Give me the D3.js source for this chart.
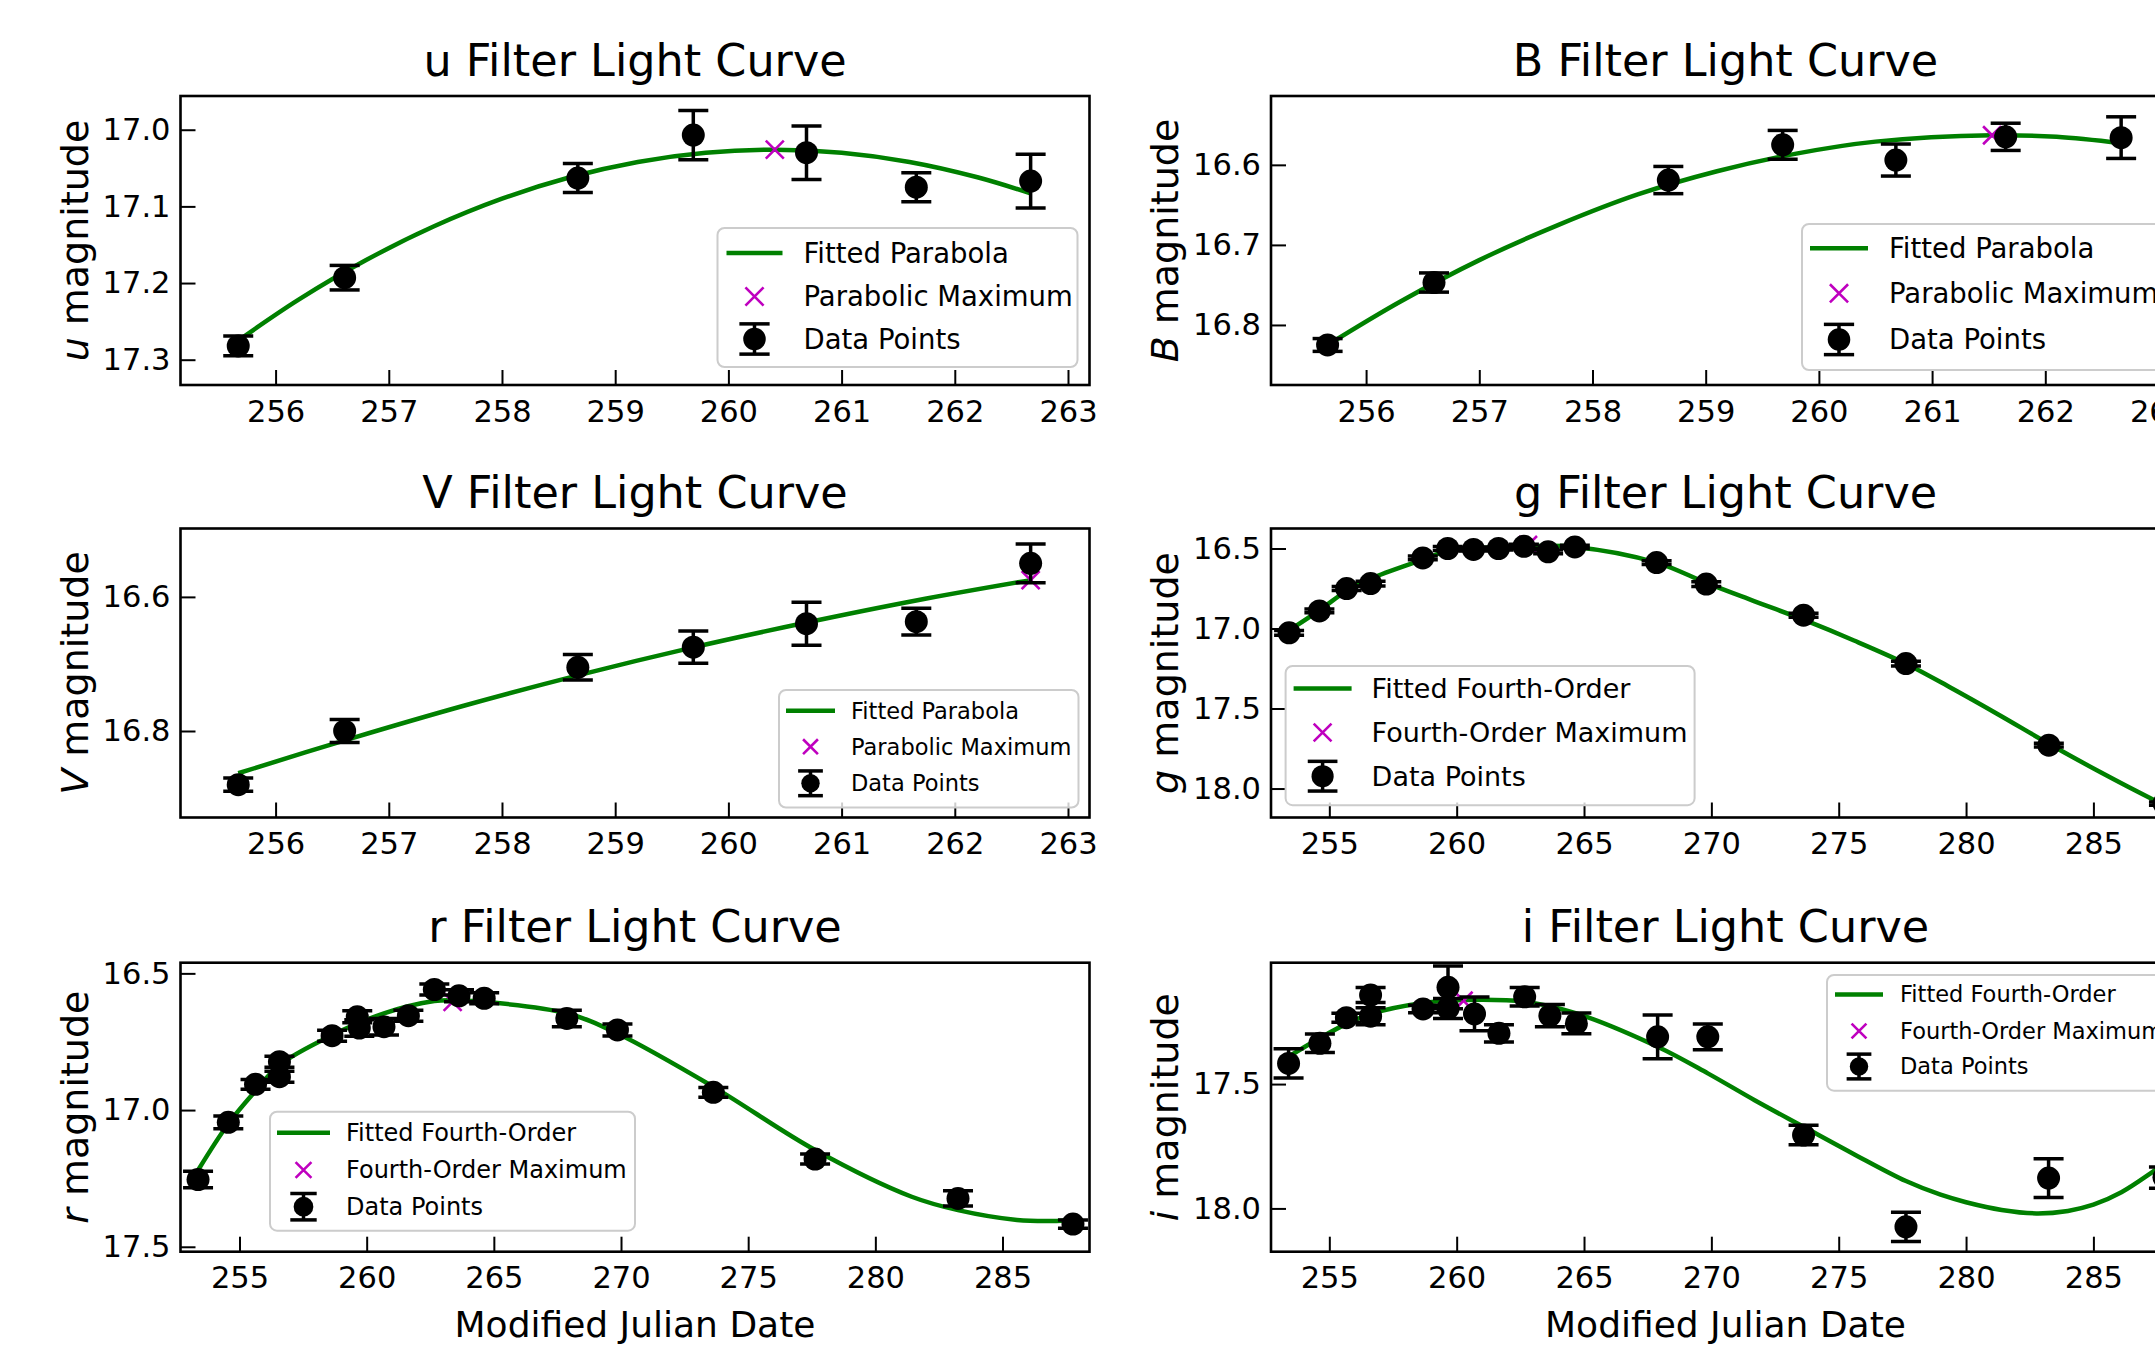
<!DOCTYPE html>
<html>
<head>
<meta charset="utf-8">
<script src="https://cdn.jsdelivr.net/npm/d3@7"></script>
<style>
body { margin: 0; background: #fff; }
svg { display: block; font-family: "DejaVu Sans", sans-serif; }
</style>
</head>
<body>
<svg id="chart" width="2155" height="1350"></svg>
<script>
// ---- data (MJD - 58000, magnitude) ----
var uDays = [255.67, 256.61, 258.67, 259.69, 260.69, 261.66, 262.67];
var uMag  = [17.282, 17.193, 17.063, 17.007, 17.030, 17.075, 17.067];
var uErr  = [0.013, 0.016, 0.019, 0.032, 0.035, 0.019, 0.035];
var uFitDays = [255.67, 256.2, 256.8, 257.4, 258.0, 258.6, 259.2, 259.8, 260.41, 261.0, 261.6, 262.2, 262.67];
var uFitMag  = [17.275, 17.222, 17.170, 17.126, 17.090, 17.062, 17.042, 17.030, 17.026, 17.030, 17.042, 17.062, 17.083];
var uPeak = [260.41, 17.026];

var bDays = [255.66, 256.60, 258.67, 259.68, 260.68, 261.65, 262.67];
var bMag  = [16.825, 16.747, 16.619, 16.575, 16.594, 16.565, 16.566];
var bErr  = [0.008, 0.012, 0.017, 0.018, 0.020, 0.017, 0.026];
var bFitDays = [255.66, 256.3, 257.0, 257.7, 258.4, 259.1, 259.8, 260.5, 261.53, 262.1, 262.67];
var bFitMag  = [16.825, 16.771, 16.719, 16.675, 16.637, 16.608, 16.586, 16.571, 16.563, 16.565, 16.573];
var bPeak = [261.53, 16.563];

var vDays = [255.67, 256.61, 258.67, 259.69, 260.69, 261.66, 262.67];
var vMag  = [16.880, 16.800, 16.705, 16.675, 16.640, 16.637, 16.550];
var vErr  = [0.010, 0.017, 0.019, 0.024, 0.032, 0.020, 0.029];
var vFitDays = [255.67, 256.67, 257.67, 258.67, 259.67, 260.67, 261.67, 262.67];
var vFitMag  = [16.863, 16.811, 16.762, 16.717, 16.676, 16.639, 16.605, 16.575];
var vPeak = [262.67, 16.575];

var gDays = [253.42, 254.61, 255.68, 256.62, 258.67, 259.65, 260.66, 261.64, 262.64, 263.59, 264.64, 267.85, 269.80, 273.62, 277.64, 283.25, 287.77];
var gMag  = [17.027, 16.890, 16.750, 16.719, 16.559, 16.500, 16.506, 16.500, 16.486, 16.521, 16.490, 16.588, 16.722, 16.917, 17.219, 17.729, 18.094];
var gErr  = [0.015, 0.012, 0.012, 0.015, 0.012, 0.012, 0.010, 0.010, 0.012, 0.012, 0.010, 0.012, 0.015, 0.012, 0.015, 0.012, 0.010];
var gFitDays = [253.42, 254.61, 255.68, 256.62, 258.67, 259.65, 260.66, 262.64, 264.64, 267.85, 269.80, 271.7, 273.62, 275.6, 277.64, 279.4, 281.3, 283.25, 285.3, 287.3, 287.77];
var gFitMag  = [17.011, 16.886, 16.765, 16.688, 16.569, 16.515, 16.500, 16.486, 16.490, 16.588, 16.715, 16.830, 16.945, 17.075, 17.220, 17.370, 17.540, 17.720, 17.900, 18.065, 18.100];
var gPeak = [262.8, 16.478];

var rDays = [253.37, 254.56, 255.63, 256.57, 256.57, 258.64, 259.63, 259.71, 260.68, 261.64, 262.66, 263.63, 264.62, 267.87, 269.86, 273.63, 277.63, 283.25, 287.77];
var rMag  = [17.254, 17.045, 16.906, 16.823, 16.878, 16.728, 16.659, 16.700, 16.695, 16.655, 16.559, 16.582, 16.591, 16.665, 16.707, 16.935, 17.179, 17.323, 17.417];
var rErr  = [0.030, 0.023, 0.018, 0.020, 0.020, 0.020, 0.022, 0.030, 0.030, 0.020, 0.020, 0.022, 0.020, 0.030, 0.022, 0.018, 0.018, 0.028, 0.015];
var rFitDays = [253.37, 254.56, 255.63, 256.57, 258.64, 260.68, 262.66, 263.38, 264.62, 267.87, 269.86, 273.63, 277.63, 281.43, 283.25, 285.57, 286.95, 287.77];
var rFitMag  = [17.220, 17.050, 16.930, 16.835, 16.726, 16.646, 16.601, 16.598, 16.604, 16.646, 16.720, 16.915, 17.146, 17.317, 17.366, 17.402, 17.406, 17.402];
var rPeak = [263.38, 16.604];

var iDays = [253.40, 254.63, 255.67, 256.62, 256.62, 258.68, 259.66, 259.66, 260.70, 261.66, 262.67, 263.66, 264.70, 267.89, 269.86, 273.62, 277.64, 283.24, 287.77];
var iMag  = [17.417, 17.336, 17.233, 17.142, 17.227, 17.198, 17.111, 17.196, 17.218, 17.296, 17.149, 17.225, 17.256, 17.310, 17.310, 17.705, 18.074, 17.878, 17.876];
var iErr  = [0.059, 0.037, 0.018, 0.030, 0.034, 0.015, 0.086, 0.040, 0.068, 0.035, 0.037, 0.045, 0.042, 0.088, 0.052, 0.039, 0.059, 0.078, 0.043];
var iFitDays = [253.40, 254.63, 255.67, 256.62, 258.68, 260.27, 262.67, 264.70, 267.89, 269.86, 271.7, 273.62, 275.6, 277.64, 279.0, 280.0, 281.4, 282.76, 284.0, 285.0, 286.1, 287.3, 287.77];
var iFitMag  = [17.390, 17.315, 17.258, 17.218, 17.174, 17.162, 17.169, 17.216, 17.350, 17.457, 17.565, 17.672, 17.782, 17.890, 17.945, 17.975, 18.006, 18.020, 18.010, 17.985, 17.935, 17.855, 17.820];
var iPeak = [260.27, 17.165];

// tick labels
var shortDayTicks = [256, 257, 258, 259, 260, 261, 262, 263];
var longDayTicks = [255, 260, 265, 270, 275, 280, 285];
var uTicks = [17.0, 17.1, 17.2, 17.3];
var bTicks = [16.6, 16.7, 16.8];
var vTicks = [16.6, 16.8];
var gTicks = [16.5, 17.0, 17.5, 18.0];
var rTicks = [16.5, 17.0, 17.5];
var iTicks = [17.5, 18.0];

// ---- layout ----
var svg = d3.select("#chart");
var axW = 909, axH = 289;
var colLeft = [180.5, 1271];
var rowTop = [96, 528.5, 962.7];
var green = "#008000", magenta = "#bf00bf";

svg.append("rect").attr("width", 2155).attr("height", 1350).attr("fill", "#fff");

var panels = [
  {band: "u", days: uDays, mag: uMag, err: uErr, fitDays: uFitDays, fitMag: uFitMag, peak: uPeak,
   col: 0, row: 0, xDom: [255.16, 263.19], yDom: [16.956, 17.333], xTicks: shortDayTicks, yTicks: uTicks,
   fitName: "Fitted Parabola", maxName: "Parabolic Maximum",
   leg: {dx: 537, dy: 132, w: 360, h: 139, font: 27.5, rows: [25, 68.5, 111], h0: 9, h1: 65, tx: 86}},
  {band: "B", days: bDays, mag: bMag, err: bErr, fitDays: bFitDays, fitMag: bFitMag, peak: bPeak,
   col: 1, row: 0, xDom: [255.16, 263.19], yDom: [16.514, 16.875], xTicks: shortDayTicks, yTicks: bTicks,
   fitName: "Fitted Parabola", maxName: "Parabolic Maximum",
   leg: {dx: 531, dy: 128, w: 362, h: 146, font: 27.5, rows: [24.3, 69.3, 115.5], h0: 8, h1: 66, tx: 87}},
  {band: "V", days: vDays, mag: vMag, err: vErr, fitDays: vFitDays, fitMag: vFitMag, peak: vPeak,
   col: 0, row: 1, xDom: [255.16, 263.19], yDom: [16.498, 16.929], xTicks: shortDayTicks, yTicks: vTicks,
   fitName: "Fitted Parabola", maxName: "Parabolic Maximum",
   leg: {dx: 598.5, dy: 161.5, w: 299.5, h: 117.5, font: 22.5, rows: [20.7, 56.7, 93.3], h0: 7, h1: 56, tx: 72}},
  {band: "g", days: gDays, mag: gMag, err: gErr, fitDays: gFitDays, fitMag: gFitMag, peak: gPeak,
   col: 1, row: 1, xDom: [252.71, 288.4], yDom: [16.375, 18.181], xTicks: longDayTicks, yTicks: gTicks,
   fitName: "Fitted Fourth-Order", maxName: "Fourth-Order Maximum",
   leg: {dx: 14.6, dy: 137.4, w: 409, h: 139.3, font: 27, rows: [22.6, 66.6, 110.3], h0: 8, h1: 66, tx: 86}},
  {band: "r", days: rDays, mag: rMag, err: rErr, fitDays: rFitDays, fitMag: rFitMag, peak: rPeak,
   col: 0, row: 2, xDom: [252.68, 288.42], yDom: [16.461, 17.518], xTicks: longDayTicks, yTicks: rTicks,
   fitName: "Fitted Fourth-Order", maxName: "Fourth-Order Maximum",
   leg: {dx: 89.5, dy: 149, w: 365, h: 119, font: 24, rows: [21, 58.3, 95], h0: 7, h1: 60, tx: 76}},
  {band: "i", days: iDays, mag: iMag, err: iErr, fitDays: iFitDays, fitMag: iFitMag, peak: iPeak,
   col: 1, row: 2, xDom: [252.71, 288.4], yDom: [17.012, 18.174], xTicks: longDayTicks, yTicks: iTicks,
   fitName: "Fitted Fourth-Order", maxName: "Fourth-Order Maximum",
   leg: {dx: 556, dy: 12.3, w: 345, h: 115.7, font: 22.5, rows: [19.5, 56, 91.5], h0: 8, h1: 56, tx: 73}}
];

function drawX(sel, cx, cy, half) {
  sel.append("path")
    .attr("d", "M" + (cx - half) + "," + (cy - half) + "L" + (cx + half) + "," + (cy + half) +
               "M" + (cx - half) + "," + (cy + half) + "L" + (cx + half) + "," + (cy - half))
    .attr("stroke", magenta).attr("stroke-width", 2.6).attr("fill", "none");
}

function drawErrGlyph(sel, cx, cy, errHalf, capHalf, r) {
  sel.append("line").attr("x1", cx).attr("x2", cx).attr("y1", cy - errHalf).attr("y2", cy + errHalf)
    .attr("stroke", "#000").attr("stroke-width", 3.5);
  [cy - errHalf, cy + errHalf].forEach(function(yy) {
    sel.append("line").attr("x1", cx - capHalf).attr("x2", cx + capHalf).attr("y1", yy).attr("y2", yy)
      .attr("stroke", "#000").attr("stroke-width", 3.5);
  });
  sel.append("circle").attr("cx", cx).attr("cy", cy).attr("r", r).attr("fill", "#000");
}

panels.forEach(function(p, k) {
  var g = svg.append("g")
    .attr("transform", "translate(" + colLeft[p.col] + "," + rowTop[p.row] + ")");

  var x = d3.scaleLinear().domain(p.xDom).range([0, axW]);
  // magnitudes: brighter (smaller) at the top
  var y = d3.scaleLinear().domain(p.yDom).range([0, axH]);

  var clipId = "clip" + k;
  g.append("clipPath").attr("id", clipId)
    .append("rect").attr("width", axW).attr("height", axH);

  // axes with inward ticks
  var xAxis = g.append("g").attr("transform", "translate(0," + axH + ")")
    .call(d3.axisBottom(x).tickValues(p.xTicks).tickSize(-15).tickPadding(15).tickFormat(d3.format("d")));
  var yAxis = g.append("g")
    .call(d3.axisLeft(y).tickValues(p.yTicks).tickSize(-15).tickPadding(10).tickFormat(d3.format(".1f")));
  [xAxis, yAxis].forEach(function(a) {
    a.select(".domain").remove();
    a.selectAll(".tick line").attr("stroke", "#000").attr("stroke-width", 2);
    a.selectAll(".tick text").attr("fill", "#000")
      .style("font-family", "DejaVu Sans").style("font-size", "30.5px");
  });

  var plot = g.append("g").attr("clip-path", "url(#" + clipId + ")");

  // fitted curve
  var fit = p.fitDays.map(function(d, i) { return [d, p.fitMag[i]]; });
  plot.append("path")
    .datum(fit)
    .attr("fill", "none")
    .attr("stroke", green)
    .attr("stroke-width", 4.5)
    .attr("d", d3.line()
      .x(function(d) { return x(d[0]); })
      .y(function(d) { return y(d[1]); })
      .curve(d3.curveCatmullRom.alpha(0.5)));

  // fitted maximum
  drawX(plot, x(p.peak[0]), y(p.peak[1]), 9);

  // data points with error bars
  var pts = p.days.map(function(d, i) { return {t: d, m: p.mag[i], e: p.err[i]}; });
  var pt = plot.selectAll("g.pt").data(pts).enter().append("g").attr("class", "pt");
  pt.append("line")
    .attr("x1", function(d) { return x(d.t); }).attr("x2", function(d) { return x(d.t); })
    .attr("y1", function(d) { return y(d.m - d.e); }).attr("y2", function(d) { return y(d.m + d.e); })
    .attr("stroke", "#000").attr("stroke-width", 3.5);
  [-1, 1].forEach(function(s) {
    pt.append("line")
      .attr("x1", function(d) { return x(d.t) - 15; }).attr("x2", function(d) { return x(d.t) + 15; })
      .attr("y1", function(d) { return y(d.m + s * d.e); }).attr("y2", function(d) { return y(d.m + s * d.e); })
      .attr("stroke", "#000").attr("stroke-width", 3.5);
  });
  pt.append("circle")
    .attr("cx", function(d) { return x(d.t); })
    .attr("cy", function(d) { return y(d.m); })
    .attr("r", 11.5)
    .attr("fill", "#000");

  // frame
  g.append("rect").attr("width", axW).attr("height", axH)
    .attr("fill", "none").attr("stroke", "#000").attr("stroke-width", 2.6);

  // legend
  var L = p.leg;
  var lg = g.append("g").attr("transform", "translate(" + L.dx + "," + L.dy + ")");
  lg.append("rect").attr("width", L.w).attr("height", L.h).attr("rx", 7)
    .attr("fill", "#fff").attr("fill-opacity", 0.8)
    .attr("stroke", "#cccccc").attr("stroke-width", 2);
  var hc = (L.h0 + L.h1) / 2;
  lg.append("line").attr("x1", L.h0).attr("x2", L.h1).attr("y1", L.rows[0]).attr("y2", L.rows[0])
    .attr("stroke", green).attr("stroke-width", 4.5);
  drawX(lg, hc, L.rows[1], L.font * 0.33);
  drawErrGlyph(lg, hc, L.rows[2], L.font * 0.55, L.font * 0.55, L.font * 0.41);
  [p.fitName, p.maxName, "Data Points"].forEach(function(t, i) {
    lg.append("text").attr("x", L.tx).attr("y", L.rows[i]).attr("dy", "0.35em")
      .style("font-size", L.font + "px").attr("fill", "#000").text(t);
  });

  // title
  g.append("text").attr("x", axW / 2).attr("y", -20.5).attr("text-anchor", "middle")
    .style("font-size", "44.5px").attr("fill", "#000")
    .text(p.band + " Filter Light Curve");

  // y label with italic band letter
  var yl = g.append("text")
    .attr("transform", "translate(-93," + (axH / 2) + ") rotate(-90)")
    .attr("text-anchor", "middle").style("font-size", "38px").attr("fill", "#000");
  yl.append("tspan").style("font-style", "italic").text(p.band);
  yl.append("tspan").text(" magnitude");

  // x label on bottom row
  if (p.row === 2) {
    g.append("text").attr("x", axW / 2).attr("y", axH + 85).attr("text-anchor", "middle")
      .style("font-size", "36px").attr("fill", "#000").text("Modified Julian Date");
  }
});
</script>
</body>
</html>
